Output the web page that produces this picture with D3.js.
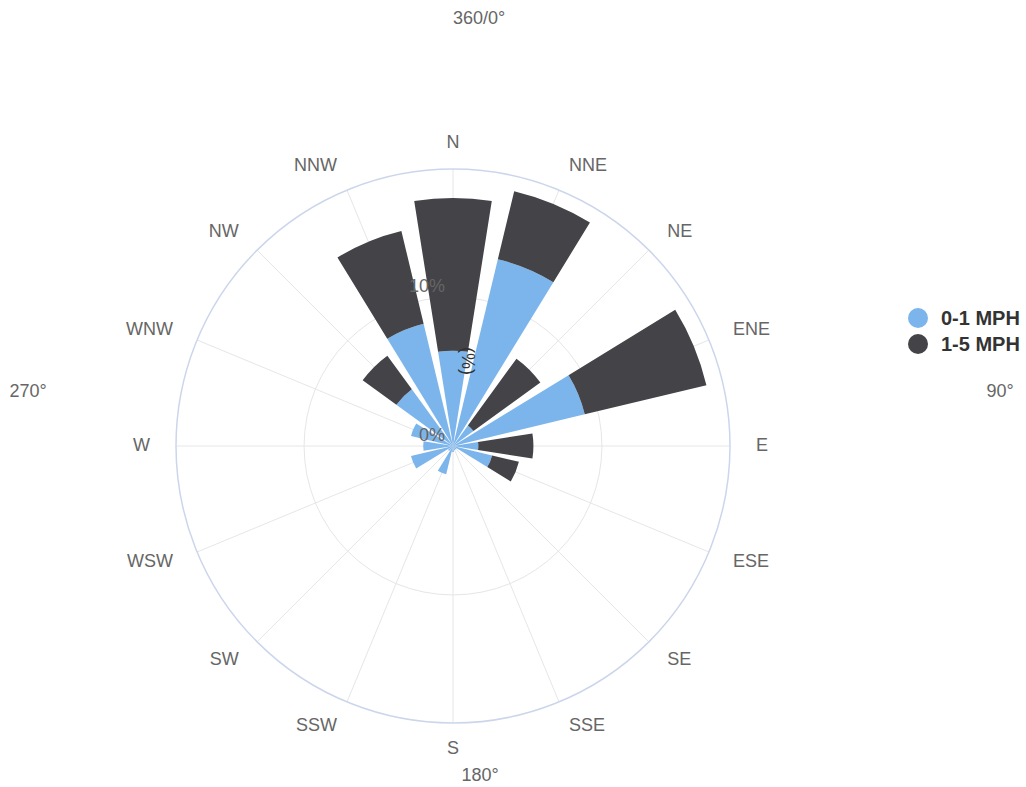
<!DOCTYPE html>
<html>
<head>
<meta charset="utf-8">
<script src="https://cdn.jsdelivr.net/npm/d3@7"></script>
<style>
  body { margin: 0; background: #fff; }
  svg text { font-family: "Liberation Sans", Arial, Helvetica, sans-serif; }
</style>
</head>
<body>
<svg id="chart" width="1026" height="787"></svg>
<script>
// wind directions, clockwise from north
var directions = ["N", "NNE", "NE", "ENE", "E", "ESE", "SE", "SSE",
                  "S", "SSW", "SW", "WSW", "W", "WNW", "NW", "NNW"];
var seriesNames = ["0-1 MPH", "1-5 MPH"];
var seriesColors = ["#7cb5ec", "#434348"];
// frequency (%) per direction
var calm = [6.4, 12.9, 1.7, 9.1, 1.7, 2.7, 0.3, 0.3, 0.4, 1.95, 0.4, 2.9, 2.0, 2.9, 4.7, 8.45];
var breeze = [10.25, 4.7, 5.55, 8.4, 3.7, 1.85, 0, 0, 0, 0, 0, 0, 0, 0, 2.8, 6.4];
var radialTicks = [0, 10];
var compassLabels = ["360/0°", "90°", "180°", "270°"];

(function () {
  var width = 1026, height = 787;
  var cx = 453, cy = 446, outerR = 277;

  var svg = d3.select("#chart");
  var g = svg.append("g").attr("transform", "translate(" + cx + "," + cy + ")");

  var rows = directions.map(function (d, i) {
    return { dir: d, calm: calm[i], breeze: breeze[i] };
  });
  var stacked = d3.stack().keys(["calm", "breeze"])(rows);

  // angle scale, band centred on each direction
  var x = d3.scaleBand()
    .domain(directions)
    .range([-Math.PI / 16, 2 * Math.PI - Math.PI / 16])
    .paddingInner(0.2)
    .paddingOuter(0.1);
  var y = d3.scaleLinear().domain([0, 18.6]).range([0, outerR]);

  function mid(d) { return x(d) + x.bandwidth() / 2; }

  // spokes
  g.selectAll("line.spoke")
    .data(directions)
    .enter().append("line")
    .attr("class", "spoke")
    .attr("x1", 0).attr("y1", 0)
    .attr("x2", function (d) { return Math.sin(mid(d)) * outerR; })
    .attr("y2", function (d) { return -Math.cos(mid(d)) * outerR; })
    .attr("stroke", "#e6e6e6")
    .attr("stroke-width", 1);

  // grid circle
  g.selectAll("circle.grid")
    .data(radialTicks.filter(function (t) { return t > 0; }))
    .enter().append("circle")
    .attr("class", "grid")
    .attr("r", function (d) { return y(d); })
    .attr("fill", "none")
    .attr("stroke", "#e6e6e6");

  var arc = d3.arc()
    .innerRadius(function (d) { return y(d[0]); })
    .outerRadius(function (d) { return y(d[1]); })
    .startAngle(function (d) { return x(d.data.dir); })
    .endAngle(function (d) { return x(d.data.dir) + x.bandwidth(); });

  g.selectAll("g.series")
    .data(stacked)
    .enter().append("g")
    .attr("class", "series")
    .attr("fill", function (d, i) { return seriesColors[i]; })
    .selectAll("path")
    .data(function (d) { return d; })
    .enter().append("path")
    .attr("d", arc);

  // pane border
  g.append("circle")
    .attr("r", outerR)
    .attr("fill", "none")
    .attr("stroke", "#ccd6eb")
    .attr("stroke-width", 1.5);

  // direction labels
  var labelR = 298;
  g.selectAll("text.dir")
    .data(directions)
    .enter().append("text")
    .attr("class", "dir")
    .attr("x", function (d) { return Math.sin(mid(d)) * (labelR + 5); })
    .attr("y", function (d) {
      var c = Math.cos(mid(d));
      return -c * labelR + (1 - c) / 2 * 10;
    })
    .attr("text-anchor", function (d) {
      var deg = (mid(d) * 180 / Math.PI + 360) % 360;
      if (deg > 20 && deg < 160) return "start";
      if (deg > 200 && deg < 340) return "end";
      return "middle";
    })
    .attr("fill", "#666")
    .style("font-size", "18px")
    .text(function (d) { return d; });

  // y axis title
  g.append("text")
    .attr("transform", "translate(" + 9 + "," + (-71) + ") rotate(90)")
    .attr("text-anchor", "end")
    .attr("fill", "#333")
    .style("font-size", "18px")
    .text("(%)");

  // radial tick labels
  g.selectAll("text.tick")
    .data(radialTicks)
    .enter().append("text")
    .attr("class", "tick")
    .attr("x", -8)
    .attr("y", function (d) { return -y(d) - 5; })
    .attr("text-anchor", "end")
    .attr("fill", "#666")
    .style("font-size", "18px")
    .text(function (d) { return d + "%"; });

  // compass degree labels
  var compassPos = [[479, 24], [1000, 397], [480, 781], [28, 397]];
  svg.selectAll("text.compass")
    .data(compassLabels)
    .enter().append("text")
    .attr("class", "compass")
    .attr("x", function (d, i) { return compassPos[i][0]; })
    .attr("y", function (d, i) { return compassPos[i][1]; })
    .attr("text-anchor", "middle")
    .attr("fill", "#666")
    .style("font-size", "18px")
    .text(function (d) { return d; });

  // legend
  var legend = svg.append("g").attr("transform", "translate(918,318)");
  var item = legend.selectAll("g")
    .data(seriesNames)
    .enter().append("g")
    .attr("transform", function (d, i) { return "translate(0," + i * 26 + ")"; });
  item.append("circle")
    .attr("r", 10)
    .attr("fill", function (d, i) { return seriesColors[i]; });
  item.append("text")
    .attr("x", 23)
    .attr("y", 7)
    .attr("fill", "#333")
    .style("font-size", "20px")
    .style("font-weight", "bold")
    .text(function (d) { return d; });
})();
</script>
</body>
</html>
